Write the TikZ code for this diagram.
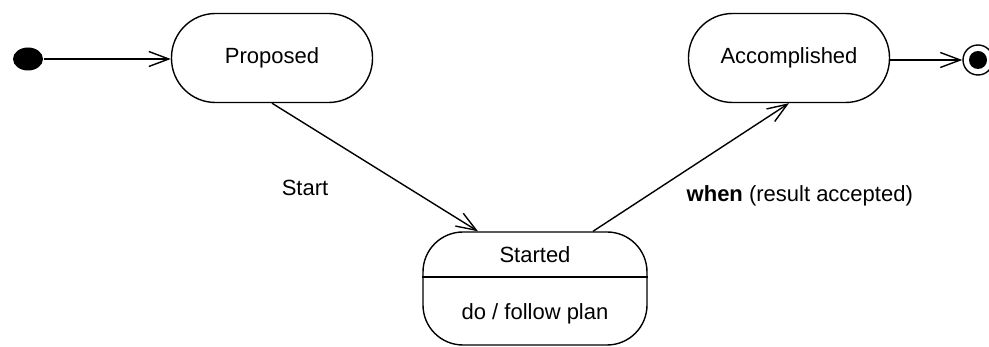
\documentclass[tikz,border=0pt]{standalone}
\usepackage{fontspec}
\setmainfont{Liberation Sans}
\usetikzlibrary{arrows.meta,calc,shapes.geometric}
\begin{document}
\begin{tikzpicture}[x=1pt,y=-1pt,
  line width=1.4pt,
  txt/.style={font=\fontsize{22}{26}\selectfont},
  statebox/.style={draw, rectangle, rounded corners=44pt, minimum width=201pt, minimum height=89pt, txt},
  flow/.style={-{Straight Barb[length=20pt,width=15pt,line width=1.4pt]}},
  lbl/.style={txt, inner sep=0pt}]
\useasboundingbox (0,0) rectangle (989,347);

% initial and final pseudo-states
\node[ellipse, fill, minimum width=30pt, minimum height=23pt, inner sep=0pt] (init) at (28,59) {};
\node[circle, draw, minimum size=30pt, inner sep=0pt] (final) at (978,60) {};
\fill (final.center) circle (9pt);

% simple states
\node[statebox] (proposed) at (272,58) {Proposed};
\node[statebox] (accomplished) at (789,58) {Accomplished};

% composite state with an activity compartment
\node[draw, rectangle, rounded corners=40pt, minimum width=224pt, minimum height=113pt] (started) at (535,288.5) {};
\draw (started.west |- 0,277) -- (started.east |- 0,277);
\node[lbl] (startedname) at (535,255) {Started};
\node[lbl] (startedact) at (535,314) {do / follow plan};

% transitions
\draw[flow] (init.east) -- (proposed.west |- init);
\draw[flow] (proposed.south) -- ($(started.north)+(-57,0)$);
\draw[flow] ($(started.north)+(58,0)$) -- (accomplished.south);
\draw[flow] (accomplished.east |- final) -- (final.west);

% transition labels
\node[lbl] (startlbl) at (305,188) {Start};
\node[lbl, anchor=west] (whenlbl) at (686,196) {\textbf{when} (result accepted)};
\end{tikzpicture}
\end{document}
